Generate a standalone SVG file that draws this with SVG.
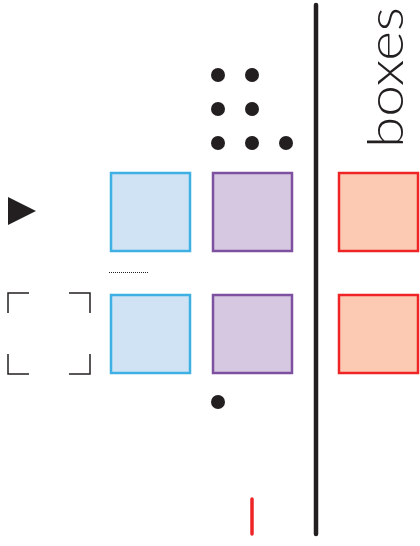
<svg xmlns="http://www.w3.org/2000/svg" width="420" height="546" viewBox="0 0 420 546">
<style>
.blue{fill:#cfe3f4;stroke:#3eb0e4;stroke-width:2.5}
.purple{fill:#d7c8e2;stroke:#7d51a0;stroke-width:2.5}
.red{fill:#fccab3;stroke:#ee2427;stroke-width:2.5}
.dot{fill:#231f20}
.bracket{fill:none;stroke:#231f20;stroke-width:1.5}
</style>
<rect width="420" height="546" fill="#fff"/>
<g id="marker-arrow"><polygon points="8,197 36,211 8,225" fill="#231f20"/></g>
<g id="bracket-frame" class="bracket">
<polyline points="8,313 8,293 29,293"/>
<polyline points="69,293 90,293 90,313"/>
<polyline points="8,354 8,374 29,374"/>
<polyline points="69,374 90,374 90,354"/>
</g>
<g id="box-blue-1"><rect class="blue" x="111" y="173" width="79" height="78"/></g>
<g id="box-purple-1"><rect class="purple" x="213" y="173" width="79" height="78"/></g>
<g id="box-red-1"><rect class="red" x="339" y="173" width="79" height="78"/></g>
<g id="box-blue-2"><rect class="blue" x="111" y="295" width="79" height="78"/></g>
<g id="box-purple-2"><rect class="purple" x="213" y="295" width="79" height="78"/></g>
<g id="box-red-2"><rect class="red" x="339" y="295" width="79" height="78"/></g>
<g id="dots">
<circle class="dot" cx="218" cy="75" r="7"/>
<circle class="dot" cx="252" cy="75" r="7"/>
<circle class="dot" cx="218" cy="109" r="7"/>
<circle class="dot" cx="252" cy="109" r="7"/>
<circle class="dot" cx="218" cy="143" r="7"/>
<circle class="dot" cx="252" cy="143" r="7"/>
<circle class="dot" cx="286" cy="143" r="7"/>
<circle class="dot" cx="218" cy="402" r="7"/>
</g>
<g id="connectors">
<line x1="109" y1="272.5" x2="149" y2="272.5" stroke="#231f20" stroke-width="1.2" stroke-dasharray="1,1"/>
<line x1="316" y1="5" x2="316" y2="534" stroke="#231f20" stroke-width="4.5" stroke-linecap="round"/>
<line x1="252" y1="499" x2="252" y2="534" stroke="#ee2427" stroke-width="3.5" stroke-linecap="round"/>
</g>
<g id="label-boxes">
<text transform="translate(403,148) rotate(-90)" x="0" y="0" font-family="Lato, Liberation Sans, Arial, sans-serif" font-weight="300" font-size="50" fill="#231f20" textLength="141" lengthAdjust="spacingAndGlyphs">boxes</text>
</g>
</svg>
